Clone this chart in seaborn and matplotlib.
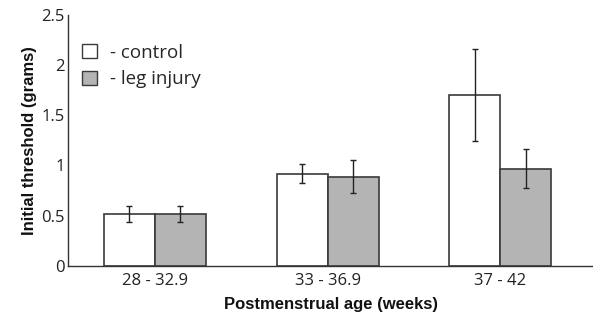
import numpy as np
import pandas as pd
import seaborn as sns
import matplotlib.pyplot as plt
from matplotlib.patches import Patch

ages = ['28 - 32.9', '33 - 36.9', '37 - 42']
groups = ['control', 'leg injury']
control_mean = [0.52, 0.92, 1.70]
control_err = [0.08, 0.09, 0.46]
injury_mean = [0.52, 0.89, 0.97]
injury_err = [0.08, 0.16, 0.19]

df = pd.DataFrame({
    'age': ages * 2,
    'group': [groups[0]] * 3 + [groups[1]] * 3,
    'threshold': control_mean + injury_mean,
})
errs = [control_err, injury_err]

sns.set_theme(style='white')
plt.rcParams['font.family'] = ['Open Sans', 'DejaVu Sans']

fig = plt.figure(figsize=(5.93, 3.25), dpi=100)
ax = fig.add_axes([0.115, 0.182, 0.885, 0.772])

cpal = ['white', '#b4b4b4']
sns.barplot(data=df, x='age', y='threshold', hue='group', palette=cpal,
            width=0.59, edgecolor='#3a3a3a', linewidth=1.2, errorbar=None,
            legend=False, ax=ax)

for cont, err in zip(ax.containers, errs):
    xs = [p.get_x() + p.get_width() / 2 for p in cont]
    ys = [p.get_height() for p in cont]
    ax.errorbar(xs, ys, yerr=err, fmt='none', ecolor='#222222',
                elinewidth=1.0, capsize=2.5, capthick=1.0)

ax.set_xlim(-0.5, 2.535)
ax.set_ylim(0, 2.5)
ax.set_yticks([0, 0.5, 1, 1.5, 2, 2.5])
ax.set_yticklabels(['0', '0.5', '1', '1.5', '2', '2.5'])
ax.set_xticks([0.5, 1.5], minor=True)
ax.tick_params(axis='x', which='major', length=0, labelsize=12, pad=5,
               labelcolor='#222222')
ax.tick_params(axis='x', which='minor', length=5, direction='inout', width=1, color='#333333')
ax.tick_params(axis='y', length=5, direction='inout', width=1, color='#333333',
               labelsize=12, pad=0, labelcolor='#222222')

for s in ['top', 'right']:
    ax.spines[s].set_visible(False)
for s in ['left', 'bottom']:
    ax.spines[s].set_color('#333333')
    ax.spines[s].set_linewidth(1.0)

ax.set_xlabel('Postmenstrual age (weeks)', fontsize=12, fontweight='bold',
              family=['Liberation Sans'], labelpad=6, color='#111111')
ax.set_ylabel('Initial threshold (grams)', fontsize=12, fontweight='bold',
              family=['Liberation Sans'], labelpad=3, color='#111111')

handles = [Patch(facecolor=c, edgecolor='#3a3a3a', linewidth=1.0) for c in cpal]
ax.legend(handles, ['- ' + g for g in groups], loc='upper left',
          bbox_to_anchor=(0.012, 0.915), frameon=False, fontsize=13.5,
          handlelength=0.8, handleheight=0.8, handletextpad=0.7,
          labelspacing=0.45, borderaxespad=0)

fig.savefig('out.png', dpi=100)
